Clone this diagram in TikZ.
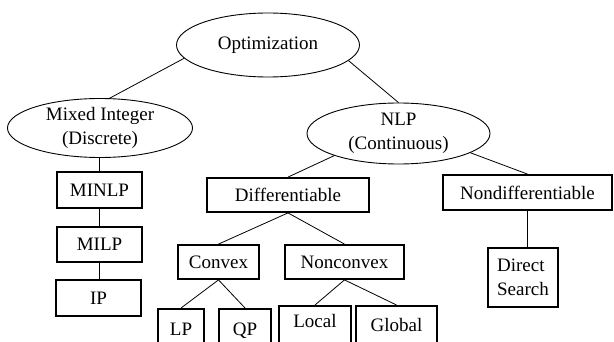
\documentclass[tikz,border=0pt]{standalone}
\usepackage{fontspec}
\setmainfont{Liberation Serif}
\usetikzlibrary{shapes.geometric}
\tikzset{
  ell/.style={ellipse, draw, line width=0.9pt, inner sep=0pt, align=center},
  bx/.style={rectangle, draw, line width=1.8pt, inner sep=0pt, align=center},
  bottombox/.style={bx, anchor=north, text height=#1, text depth=20pt},
  conn/.style={draw, line width=0.8pt}
}
\begin{document}
\begin{tikzpicture}[x=1pt,y=-1pt,font=\fontsize{19}{23.5}\selectfont]
\clip (0,0) rectangle (614,342);
\fill[white] (0,0) rectangle (614,342);
% ellipses
\node[ell, minimum width=183pt, minimum height=64pt] (opt) at (268,45) {Optimization};
\node[ell, minimum width=185pt, minimum height=59pt] (mixed) at (100,128) {Mixed Integer\\(Discrete)};
\node[ell, minimum width=183pt, minimum height=61pt] (nlp) at (398.5,133.5) {NLP\\(Continuous)};
% left column
\node[bx, minimum width=85pt, minimum height=36pt] (minlp) at (99.5,190) {MINLP};
\node[bx, minimum width=85pt, minimum height=35pt] (milp) at (99.5,244.5) {MILP};
\node[bx, minimum width=85pt, minimum height=36pt] (ip) at (98.5,298) {IP};
% NLP branch
\node[bx, minimum width=162pt, minimum height=34pt] (diff) at (288,195) {Differentiable};
\node[bx, minimum width=169pt, minimum height=35pt] (nondiff) at (527.5,192.5) {Nondifferentiable};
\node[bx, minimum width=81pt, minimum height=34pt] (convex) at (218.5,262) {Convex};
\node[bx, minimum width=119pt, minimum height=34pt] (nonconvex) at (344.5,262) {Nonconvex};
\node[bx, minimum width=70pt, minimum height=59pt, align=left] (direct) at (523,277.5) {Direct\\Search};
% bottom row (cut off by the page edge)
\node[bottombox=27pt, minimum width=46pt] (lp) at (181,308) {LP};
\node[bottombox=27pt, minimum width=52pt] (qp) at (245,308) {QP};
\node[bottombox=22pt, minimum width=72pt] (local) at (315,305) {Local};
\node[bottombox=26pt, minimum width=81pt] (global) at (396.5,305) {Global};
% connectors
\draw[conn] (opt.-171) -- (mixed.72);
\draw[conn] (opt.-11) -- (nlp.north);
\draw[conn] (nlp.-161) -- (diff.north);
\draw[conn] (nlp.-15) -- (nondiff.north);
\draw[conn] (minlp.north |- mixed.south) -- (minlp.north);
\draw[conn] (minlp.south) -- (milp.north);
\draw[conn] (milp.south) -- (milp.south |- ip.north);
\draw[conn] (diff.south) -- (convex.north);
\draw[conn] (diff.south) -- (nonconvex.north);
\draw[conn] (convex.south) -- (lp.north);
\draw[conn] (convex.south) -- (qp.north);
\draw[conn] (nonconvex.south) -- (local.north);
\draw[conn] (nonconvex.south) -- (global.north);
\draw[conn] (nondiff.south) -- (nondiff.south |- direct.north);
\end{tikzpicture}
\end{document}
